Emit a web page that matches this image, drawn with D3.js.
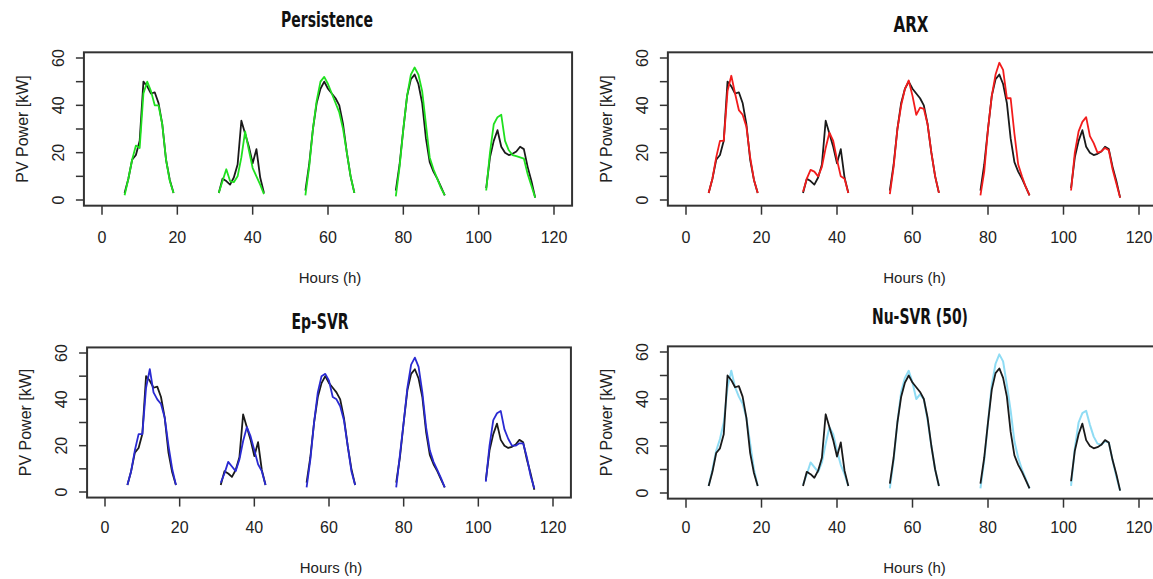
<!DOCTYPE html>
<html lang="en">
<head>
<meta charset="UTF-8">
<title>PV forecasts</title>
<script src="https://cdn.jsdelivr.net/npm/d3@7/dist/d3.min.js"></script>
<style>
  html, body { margin: 0; padding: 0; background: #fff; }
  svg { display: block; }
  .tick-label, .axis-title { font-family: "Liberation Sans", Arial, sans-serif; fill: #222; }
  .title { font-family: "Liberation Sans Narrow", "DejaVu Sans Condensed", "Liberation Sans", sans-serif; font-weight: bold; fill: #111; }
</style>
</head>
<body>
<div id="chart"></div>
<script>
"use strict";

// hour where each day's segment starts (one value per hour after that)
const dayStart = [6, 31, 54, 78, 102];

const xTicks = [0, 20, 40, 60, 80, 100, 120];
const yTicks = [0, 10, 20, 30, 40, 50, 60];
const yTickLabels = [0, 20, 40, 60];

// measured PV power (black line), kW
const actual = [
  [3, 9, 17, 19, 25, 50, 48, 45, 45.5, 41, 32, 17, 8.5, 3],
  [3, 9, 8, 6.5, 9.5, 15, 33.5, 28, 22.5, 15.5, 21.5, 9.5, 3],
  [4, 15, 30, 41, 47, 50, 47, 45, 43, 40, 32, 20, 10, 3],
  [4, 15, 30, 44, 51, 53, 49, 41, 26, 16, 12, 9, 5.5, 2],
  [5, 18, 25, 29.5, 22.5, 20, 19, 19.5, 20.5, 22.5, 21.5, 14, 8, 1]
];

const persistence = [
  [2, 9, 17, 23, 22, 45, 50, 46, 40, 40, 32, 17, 8, 3],
  [3, 8, 13, 8, 7.5, 10, 18, 29, 21, 13.5, 10, 6.5, 2.5],
  [2, 14, 30, 42, 50, 52, 49, 45, 41, 37, 30, 20, 10, 3],
  [1.5, 14, 30, 44, 53, 56, 53, 46, 32, 18, 13, 9, 5, 2],
  [4, 20, 32, 35, 36, 25, 21, 19, 18.5, 18, 17.5, 11, 6, 1]
];

const arx = [
  [3, 9, 18, 25, 25, 46, 52.5, 45, 38, 36, 31, 18, 8.5, 3],
  [3.5, 9, 12.7, 12, 10, 14, 22, 28.5, 25, 17, 10, 9, 3],
  [2.5, 14, 30, 40, 47, 50.5, 44, 36, 39, 38.5, 32, 20, 10, 3],
  [2, 12, 30, 44, 53, 58, 55, 43, 43, 28, 15, 10, 5.5, 2],
  [4, 20, 29, 33, 35, 27, 24, 20, 20.5, 22, 21, 13, 7, 1]
];

const epSvr = [
  [3, 9, 18, 25, 25, 45, 53, 43, 40, 38, 32, 20, 10, 3],
  [4, 8, 13, 11, 9, 14, 22, 28, 24, 18, 12, 9, 3],
  [2, 14, 30, 43, 50, 51, 48, 41, 40, 37, 31, 20, 9, 3],
  [2, 16, 30, 45, 55, 58, 54, 43, 28, 18, 13, 9.5, 6, 2],
  [4.5, 20, 31, 34, 35, 27, 23, 20, 20, 21, 21, 15, 7, 1.5]
];

const nuSvr = [
  [3, 10, 18, 23, 30, 45, 52, 45, 41, 38, 32, 21, 10, 3],
  [3.5, 8, 13, 11, 9, 13, 21, 28, 25, 18, 12, 8, 3],
  [2, 14, 30, 43, 49, 52, 47, 40, 42, 40, 31, 20, 10, 3],
  [2, 14, 30, 46, 55, 59, 56, 46, 35, 22, 15, 10, 6, 2],
  [3, 19, 30, 34, 35, 29, 24, 21, 20.5, 22, 21.5, 14, 7, 1]
];

const panels = [
  { title: "Persistence", data: persistence, color: "#1fe01f", blackOnTop: false,
    x0: 102, x1: 554, y0: 200, y1: 58, titleX: 327, titleY: 27, titleW: 92, top: 0 },
  { title: "ARX", data: arx, color: "#f21c1c", blackOnTop: false,
    x0: 686, x1: 1139, y0: 200, y1: 58, titleX: 911, titleY: 32, titleW: 35, top: 0 },
  { title: "Ep-SVR", data: epSvr, color: "#2a2ad2", blackOnTop: false,
    x0: 105, x1: 553, y0: 492, y1: 353, titleX: 320, titleY: 329, titleW: 57, top: 290 },
  { title: "Nu-SVR (50)", data: nuSvr, color: "#8fdcf4", blackOnTop: true,
    x0: 686, x1: 1139, y0: 493, y1: 352, titleX: 920, titleY: 324, titleW: 96, top: 290 }
];

const W = 1153, H = 579;

const svg = d3.select("#chart").append("svg")
  .attr("width", W)
  .attr("height", H);

function segments(values) {
  return values.map((day, i) => day.map((v, j) => [dayStart[i] + j, v]));
}

panels.forEach(p => {
  const x = d3.scaleLinear().domain([0, 120]).range([p.x0, p.x1]);
  const y = d3.scaleLinear().domain([0, 60]).range([p.y0, p.y1]);

  // R style 4% padding around the data range
  const left = x(-4.8), right = x(124.8), top = y(62.4), bottom = y(-2.4);
  const g = svg.append("g");

  const line = d3.line().x(d => x(d[0])).y(d => y(d[1]));

  const drawSeries = (vals, color, width) => {
    g.append("g").selectAll("path")
      .data(segments(vals))
      .join("path")
      .attr("d", line)
      .attr("fill", "none")
      .attr("stroke", color)
      .attr("stroke-width", width)
      .attr("stroke-linejoin", "round");
  };

  if (p.blackOnTop) {
    drawSeries(p.data, p.color, 2);
    drawSeries(actual, "#1a1a1a", 1.8);
  } else {
    drawSeries(actual, "#1a1a1a", 1.8);
    drawSeries(p.data, p.color, 1.8);
  }

  // box
  g.append("rect")
    .attr("x", left).attr("y", top)
    .attr("width", right - left).attr("height", bottom - top)
    .attr("fill", "none")
    .attr("stroke", "#333")
    .attr("stroke-width", 2);

  // x axis ticks
  g.append("g").selectAll("line")
    .data(xTicks)
    .join("line")
    .attr("x1", d => x(d)).attr("x2", d => x(d))
    .attr("y1", bottom).attr("y2", bottom + 9)
    .attr("stroke", "#333").attr("stroke-width", 1.5);

  g.append("g").selectAll("text")
    .data(xTicks)
    .join("text")
    .attr("class", "tick-label")
    .attr("x", d => x(d))
    .attr("y", p.top + 243)
    .attr("text-anchor", "middle")
    .attr("font-size", 16)
    .text(d => d);

  // y axis ticks
  g.append("g").selectAll("line")
    .data(yTicks)
    .join("line")
    .attr("x1", left - 8).attr("x2", left)
    .attr("y1", d => y(d)).attr("y2", d => y(d))
    .attr("stroke", "#333").attr("stroke-width", 1.5);

  g.append("g").selectAll("text")
    .data(yTickLabels)
    .join("text")
    .attr("class", "tick-label")
    .attr("transform", d => `translate(${left - 20},${y(d)}) rotate(-90)`)
    .attr("text-anchor", "middle")
    .attr("font-size", 16)
    .text(d => d);

  // titles
  g.append("text")
    .attr("class", "axis-title")
    .attr("x", (x(0) + x(120)) / 2 + 2)
    .attr("y", p.top + 283)
    .attr("text-anchor", "middle")
    .attr("font-size", 15)
    .text("Hours (h)");

  g.append("text")
    .attr("class", "axis-title")
    .attr("transform", `translate(${left - 56},${(top + bottom) / 2}) rotate(-90)`)
    .attr("text-anchor", "middle")
    .attr("font-size", 16)
    .text("PV Power [kW]");

  g.append("text")
    .attr("class", "title")
    .attr("x", p.titleX)
    .attr("y", p.titleY)
    .attr("text-anchor", "middle")
    .attr("font-size", 21)
    .attr("textLength", p.titleW)
    .attr("lengthAdjust", "spacingAndGlyphs")
    .text(p.title);
});
</script>
</body>
</html>
